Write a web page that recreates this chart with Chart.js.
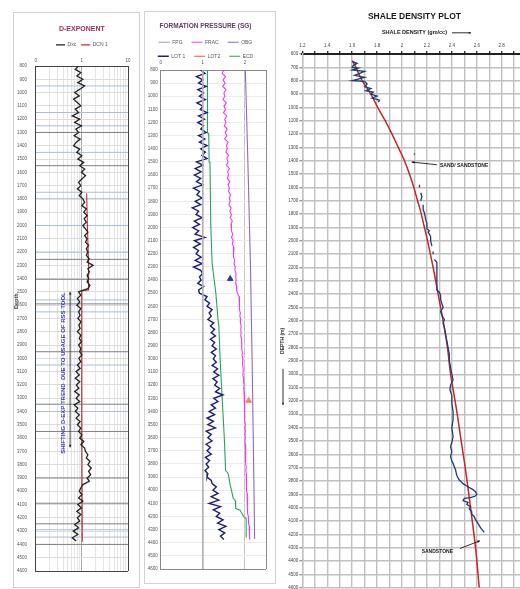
<!DOCTYPE html>
<html>
<head>
<meta charset="utf-8">
<title>D-exponent, formation pressure and shale density</title>
<script src="https://cdn.jsdelivr.net/npm/chart.js@4.4.1/dist/chart.umd.min.js"></script>
<style>
  html, body { margin: 0; padding: 0; background: #fff; }
  body { position: relative; width: 520px; height: 589px; overflow: hidden; }
  canvas, .frame { position: absolute; }
  .frame { border: 1px solid #d2d2d2; box-sizing: border-box; }
</style>
</head>
<body>
<div class="frame" style="left:13px; top:12px; width:127px; height:576px;"></div>
<canvas id="dexpChart" width="125" height="574" style="left:14px; top:13px;"></canvas>
<div class="frame" style="left:144px; top:11px; width:132px; height:573px;"></div>
<canvas id="pressChart" width="130" height="571" style="left:145px; top:12px;"></canvas>
<canvas id="densChart" width="260" height="600" style="left:280px; top:0px;"></canvas>
<script>
const FONT = "'Liberation Sans Narrow', 'Liberation Sans', Arial, sans-serif";

// depth of every reading of the noisy logs (m)
const logDepth = [
  800, 825, 850, 875, 900, 925, 950, 975,
  1000, 1025, 1050, 1075, 1100, 1125, 1150, 1175,
  1200, 1225, 1250, 1275, 1300, 1325, 1350, 1375,
  1400, 1425, 1450, 1475, 1500, 1525, 1550, 1575,
  1600, 1625, 1650, 1675, 1700, 1725, 1750, 1775,
  1800, 1825, 1850, 1875, 1900, 1925, 1950, 1975,
  2000, 2025, 2050, 2075, 2100, 2125, 2150, 2175,
  2200, 2225, 2250, 2275, 2300, 2325, 2350, 2375,
  2400, 2425, 2450, 2475, 2500, 2525, 2550, 2575,
  2600, 2625, 2650, 2675, 2700, 2725, 2750, 2775,
  2800, 2825, 2850, 2875, 2900, 2925, 2950, 2975,
  3000, 3025, 3050, 3075, 3100, 3125, 3150, 3175,
  3200, 3225, 3250, 3275, 3300, 3325, 3350, 3375,
  3400, 3425, 3450, 3475, 3500, 3525, 3550, 3575,
  3600, 3625, 3650, 3675, 3700, 3725, 3750, 3775,
  3800, 3825, 3850, 3875, 3900, 3925, 3950, 3975,
  4000, 4025, 4050, 4075, 4100, 4125, 4150, 4175,
  4200, 4225, 4250, 4275, 4300, 4325, 4350, 4375
];

// D-exponent panel
const dxcValue = [
  0.85, 0.72, 0.95, 0.78, 1.05, 0.82, 1.15, 0.9,
  0.7, 0.88, 0.66, 0.8, 0.95, 0.72, 0.85, 0.62,
  0.9, 0.7, 0.98, 0.74, 0.85, 0.68, 0.92, 0.75,
  0.66, 0.9, 0.78, 1.0, 0.82, 1.1, 0.9, 1.15,
  0.98, 1.2, 1.0, 0.85, 0.95, 0.8, 1.0, 0.88,
  1.05, 1.15, 1.0, 1.25, 1.1, 1.3, 1.12, 1.25,
  1.05, 1.2, 1.35, 1.15, 1.3, 1.2, 1.4, 1.25,
  1.35, 1.25, 1.45, 1.3, 1.75, 1.35, 1.45, 1.3,
  1.4, 1.3, 1.5, 1.35, 0.85, 0.95, 0.8, 0.9,
  0.78, 0.95, 0.85, 0.92, 0.82, 0.96, 0.86, 0.92,
  0.8, 0.95, 0.88, 0.98, 0.85, 0.95, 0.9, 1.0,
  0.86, 0.95, 0.8, 0.92, 0.75, 0.88, 0.72, 0.9,
  0.76, 0.86, 0.7, 0.88, 0.75, 0.9, 0.68, 0.82,
  0.72, 0.88, 0.75, 0.92, 0.8, 0.95, 0.85, 1.0,
  0.9, 1.1, 0.95, 1.15, 1.2, 1.35, 1.25, 1.5,
  1.35, 1.6, 1.4, 1.55, 1.3, 1.45, 1.05, 0.95,
  0.88, 1.0, 0.85, 1.05, 0.82, 0.98, 0.78, 0.95,
  0.8, 0.9, 0.7, 0.85, 0.65, 0.82, 0.62, 0.75
];
const dcnDepth = [1760, 2000, 2260, 2485, 2490, 3500, 4380];
const dcnValue = [1.27, 1.32, 1.39, 1.40, 1.0, 1.0, 1.02];
const blueTops = [950, 1150, 1250, 1450, 1750, 1800, 2000, 2200, 2560, 2650, 3050, 3400, 4290, 4345];
const darkTops = [1300, 1550, 2255, 2405, 2590, 2950, 3345, 3550, 3900, 4090, 4245, 4400];
const dexpGrid = [0.1, 0.2, 0.3, 0.4, 0.5, 0.6, 0.7, 0.8, 0.9, 1, 2, 3, 4, 5, 6, 7, 8, 9, 10];
const dexpLabelValues = [0.1, 1, 10];
const dexpLabelText = ['0', '1', '10'];

// formation pressure panel (SG)
const lot1Value = [
  0.95, 1.05, 0.85, 1.0, 0.9, 1.08, 0.88, 1.02,
  0.92, 1.06, 0.86, 1.0, 0.94, 1.1, 0.9, 1.04,
  0.88, 1.02, 0.95, 1.08, 0.9, 1.05, 0.92, 1.1,
  0.95, 1.06, 0.98, 1.1, 0.85, 1.0, 0.82, 0.96,
  0.8, 0.95, 0.85, 1.0, 0.78, 0.92, 0.86, 0.98,
  0.82, 0.95, 0.75, 0.9, 0.84, 0.98, 0.8, 0.92,
  0.76, 0.9, 0.82, 1.05, 0.8, 0.94, 0.78, 0.9,
  0.84, 0.96, 0.82, 0.98, 0.78, 0.95, 1.0, 0.92,
  0.96, 0.88, 1.02, 0.9, 0.92, 1.1, 1.05, 1.16,
  1.1, 1.22, 1.15, 1.2, 1.12, 1.26, 1.18, 1.28,
  1.2, 1.3, 1.18, 1.28, 1.22, 1.32, 1.2, 1.3,
  1.25, 1.32, 1.22, 1.35, 1.26, 1.38, 1.24, 1.34,
  1.28, 1.4, 1.3, 1.48, 1.26, 1.36, 1.2, 1.3,
  1.15, 1.28, 1.1, 1.25, 1.12, 1.3, 1.08, 1.2,
  1.12, 1.22, 1.08, 1.18, 1.1, 1.2, 1.06, 1.16,
  1.08, 1.14, 1.05, 1.12, 1.1, 1.2, 1.22, 1.32,
  1.24, 1.36, 1.2, 1.38, 1.15, 1.42, 1.25, 1.4,
  1.32, 1.48, 1.35, 1.55, 1.38, 1.52, 1.42, 1.5
];
const fracValue = [
  1.50, 1.46, 1.54, 1.48, 1.53, 1.47, 1.55, 1.50,
  1.52, 1.48, 1.56, 1.50, 1.54, 1.49, 1.57, 1.52,
  1.55, 1.51, 1.58, 1.53, 1.57, 1.52, 1.60, 1.56,
  1.58, 1.55, 1.61, 1.57, 1.60, 1.56, 1.63, 1.59,
  1.61, 1.58, 1.64, 1.60, 1.63, 1.61, 1.66, 1.63,
  1.65, 1.62, 1.67, 1.64, 1.68, 1.65, 1.70, 1.67,
  1.69, 1.67, 1.71, 1.68, 1.72, 1.70, 1.74, 1.72,
  1.74, 1.72, 1.76, 1.74, 1.77, 1.76, 1.79, 1.78,
  1.79, 1.78, 1.81, 1.80, 1.82, 1.86, 1.87, 1.86,
  1.88, 1.87, 1.89, 1.88, 1.90, 1.89, 1.91, 1.90,
  1.91, 1.90, 1.92, 1.92, 1.93, 1.92, 1.94, 1.93,
  1.95, 1.94, 1.95, 1.96, 1.96, 1.95, 1.97, 1.97,
  1.98, 1.97, 1.98, 1.99, 1.99, 1.98, 2.00, 1.99,
  2.00, 1.99, 2.00, 2.00, 2.01, 2.00, 2.01, 2.00,
  2.01, 2.00, 2.01, 2.01, 2.02, 2.01, 2.02, 2.02,
  2.02, 2.03, 2.02, 2.03, 2.03, 2.04, 2.03, 2.04,
  2.04, 2.05, 2.05, 2.06, 2.06, 2.06, 2.07, 2.07,
  2.08, 2.08, 2.09, 2.10, 2.10, 2.11, 2.11, 2.12
];
const ecdDepth = [800, 1280, 1285, 1500, 1510, 2000, 2270, 2500, 2700, 2750, 3000, 3300, 3600, 3850, 3870, 3960, 4000, 4060, 4080, 4140, 4150, 4200, 4215, 4360];
const ecdValue = [1.11, 1.11, 1.14, 1.15, 1.17, 1.19, 1.22, 1.31, 1.36, 1.38, 1.41, 1.46, 1.51, 1.54, 1.60, 1.65, 1.68, 1.72, 1.77, 1.78, 1.88, 1.97, 2.03, 2.03];
const obgDepth = [800, 1500, 2270, 3000, 3650, 4370];
const obgValue = [2.01, 2.07, 2.13, 2.17, 2.20, 2.23];
const fpgDepth = [800, 4600];
const fpgValue = [1.0, 1.0];
const lot1TestDepth = [2390];
const lot1TestValue = [1.65];
const lot2Depth = [3318];
const lot2Value = [2.09];
const presLabelValues = [0, 1, 2];

// shale density panel (gm/cc), null = gap in the log
const densDepth = [
  655, 670, 685, 700, 705, 720, 730, 745, 760, 775, 790, 800, 805, 825, 845, 860, 875, 885, 900, 915, 930, 945, 960, null,
  1345, 1355, null,
  1580, 1600, null,
  1640, 1670, 1700, null,
  1730, 1770, 1790, 1840, 1870, 1910, 1925, 1935, 1950, 1970, 2000, 2040, null,
  2080, 2100, null,
  2140, 2160, 2250, 2370, 2385, 2410, 2440, 2470, 2500, 2530,
  2560, 2590, 2620, 2650, 2700, 2750, 2800, 2850, 2900, 2950,
  3000, 3043, 3080, 3118, 3160, 3218, 3280, 3343, 3400, 3468,
  3510, 3543, 3580, 3618, 3650, 3668, 3718, 3760, 3793, 3820,
  3843, 3865, 3880, 3900, 3913, 3925, 3930, 3948, 3960, 3975,
  3993, 4010, 4031, 4050, 4068, 4090, 4118, 4150, 4186
];
const densValue = [
  1.60, 1.64, 1.61, 1.60, 1.65, 1.60, 1.70, 1.66, 1.62, 1.70, 1.64, 1.60, 1.70, 1.72, 1.70, 1.75, 1.71, 1.77, 1.75, 1.80, 1.76, 1.82, 1.81, null,
  2.10, 2.10, null,
  2.14, 2.14, null,
  2.15, 2.16, 2.15, null,
  2.17, 2.17, 2.18, 2.19, 2.20, 2.20, 2.22, 2.21, 2.22, 2.23, 2.23, 2.24, null,
  2.25, 2.25, null,
  2.26, 2.28, 2.28, 2.28, 2.30, 2.31, 2.31, 2.32, 2.33, 2.31,
  2.32, 2.34, 2.33, 2.34, 2.35, 2.36, 2.37, 2.38, 2.38, 2.39,
  2.40, 2.41, 2.39, 2.385, 2.40, 2.40, 2.41, 2.41, 2.40, 2.41,
  2.40, 2.39, 2.40, 2.39, 2.40, 2.41, 2.43, 2.44, 2.46, 2.49,
  2.53, 2.57, 2.59, 2.60, 2.59, 2.55, 2.50, 2.49, 2.53, 2.52,
  2.55, 2.54, 2.56, 2.56, 2.58, 2.59, 2.61, 2.63, 2.66
];
const nctDepth = [650, 700, 800, 900, 1000, 1100, 1200, 1300, 1400, 1500, 1600, 1700, 1800, 1900, 2000, 2200, 2400, 2600, 2800, 3000, 3250, 3500, 3750, 4000, 4300, 4600];
const nctValue = [1.60, 1.63, 1.68, 1.75, 1.805, 1.865, 1.92, 1.97, 2.02, 2.06, 2.095, 2.125, 2.155, 2.18, 2.205, 2.25, 2.29, 2.33, 2.365, 2.39, 2.435, 2.475, 2.515, 2.55, 2.59, 2.62];
const densGrid = [1.2, 1.3, 1.4, 1.5, 1.6, 1.7, 1.8, 1.9, 2.0, 2.1, 2.2, 2.3, 2.4, 2.5, 2.6, 2.7, 2.8, 2.9, 3.0];
const densTickValues = [1.2, 1.4, 1.6, 1.8, 2.0, 2.2, 2.4, 2.6, 2.8, 3.0];
const densTickText = ['1.2', '1.4', '1.6', '1.8', '2', '2.2', '2.4', '2.6', '2.8', '3'];

Chart.defaults.font.family = FONT;
Chart.defaults.color = '#555';
Chart.defaults.animation = false;
Chart.defaults.events = [];
Chart.defaults.plugins.tooltip.enabled = false;

function pairs(depths, values) {
  return depths.map((d, i) => ({ x: values[i], y: d }));
}

// one horizontal segment per depth, separated by gaps
function levelLines(depths, from, to) {
  return depths.flatMap(d => [{ x: from, y: d }, { x: to, y: d }, { x: null, y: null }]);
}

const depthLabel = v => String(v);

function drawArrow(ctx, x1, y1, x2, y2, head) {
  const a = Math.atan2(y2 - y1, x2 - x1);
  ctx.beginPath();
  ctx.moveTo(x1, y1);
  ctx.lineTo(x2, y2);
  ctx.stroke();
  ctx.beginPath();
  ctx.moveTo(x2, y2);
  ctx.lineTo(x2 - head * Math.cos(a - 0.45), y2 - head * Math.sin(a - 0.45));
  ctx.lineTo(x2 - head * Math.cos(a + 0.45), y2 - head * Math.sin(a + 0.45));
  ctx.closePath();
  ctx.fill();
}

function rotatedText(ctx, text, x, y, font, color) {
  ctx.save();
  ctx.translate(x, y);
  ctx.rotate(-Math.PI / 2);
  ctx.font = font;
  ctx.fillStyle = color;
  ctx.textAlign = 'center';
  ctx.textBaseline = 'middle';
  ctx.fillText(text, 0, 0);
  ctx.restore();
}

// axis title and the RSS note of the d-exponent track
const dexpNotes = {
  id: 'dexpNotes',
  afterDatasetsDraw(chart) {
    const { ctx } = chart;
    const x = chart.scales.x, y = chart.scales.y;
    rotatedText(ctx, 'Depth', 2.5, y.getPixelForValue(2570), `bold 5.5px ${FONT}`, '#3d3d3d');
    rotatedText(ctx, 'SHIFTING D-EXP TREND  DUE TO USAGE OF RSS TOOL',
      x.getPixelForValue(0.39), y.getPixelForValue(3110), "bold 6px 'Liberation Sans', Arial, sans-serif", '#3a3ad2');
    ctx.save();
    ctx.strokeStyle = '#222';
    ctx.fillStyle = '#222';
    ctx.lineWidth = 0.8;
    const ax = x.getPixelForValue(0.557);
    drawArrow(ctx, ax, y.getPixelForValue(3100), ax, y.getPixelForValue(2500), 3);
    drawArrow(ctx, ax, y.getPixelForValue(3100), ax, y.getPixelForValue(3670), 3);
    ctx.restore();
  }
};

// caption arrow, depth title and the sandstone notes of the density plot
const densNotes = {
  id: 'densNotes',
  afterDatasetsDraw(chart) {
    const { ctx } = chart;
    const x = chart.scales.x, y = chart.scales.y;
    ctx.save();
    ctx.strokeStyle = '#1a1a1a';
    ctx.fillStyle = '#1a1a1a';
    ctx.lineWidth = 0.9;

    const tb = chart.titleBlock;
    ctx.font = `bold 5.5px ${FONT}`;
    const half = ctx.measureText('SHALE DENSITY (gm/cc)').width / 2;
    const cx = (tb.left + tb.right) / 2;
    const cy = tb.bottom + 9.3;
    drawArrow(ctx, cx + half + 5, cy, cx + half + 24, cy, 2.5);

    rotatedText(ctx, 'DEPTH (m)', 3, y.getPixelForValue(2750), `bold 5px ${FONT}`, '#333');
    drawArrow(ctx, 3, y.getPixelForValue(2960), 3, y.getPixelForValue(3230), 2.5);

    ctx.font = `bold 5px ${FONT}`;
    ctx.textAlign = 'left';
    ctx.textBaseline = 'middle';
    ctx.fillText('SAND/ SANDSTONE', x.getPixelForValue(2.305), y.getPixelForValue(1437));
    drawArrow(ctx, x.getPixelForValue(2.28), y.getPixelForValue(1430), x.getPixelForValue(2.078), y.getPixelForValue(1410), 3);
    ctx.fillText('SANDSTONE', x.getPixelForValue(2.158), y.getPixelForValue(4331));
    drawArrow(ctx, x.getPixelForValue(2.466), y.getPixelForValue(4306), x.getPixelForValue(2.626), y.getPixelForValue(4248), 3);
    ctx.restore();
  }
};

// D-EXPONENT
new Chart(document.getElementById('dexpChart'), {
  type: 'line',
  data: {
    datasets: [
      { label: 'Dxc', data: pairs(logDepth, dxcValue), borderColor: '#222', borderWidth: 1.3 },
      { label: 'DCN 1', data: pairs(dcnDepth, dcnValue), borderColor: '#c8282e', borderWidth: 1.1 },
      { label: 'tops', data: levelLines(blueTops, 0.1, 10), borderColor: '#a8bde2', borderWidth: 1 },
      { label: 'tops dark', data: levelLines(darkTops, 0.1, 10), borderColor: '#7d808c', borderWidth: 1 }
    ]
  },
  options: {
    responsive: false,
    elements: { point: { radius: 0 }, line: { tension: 0 } },
    layout: { padding: { left: 0, right: 11, top: 0, bottom: 16 } },
    plugins: {
      title: { display: true, fullSize: false, text: 'D-EXPONENT', color: '#963563', font: { size: 7, weight: 'bold' }, padding: { top: 12, bottom: 4 } },
      legend: {
        fullSize: false,
        labels: { boxWidth: 9, boxHeight: 0, padding: 5, color: '#555', font: { size: 5 }, filter: item => item.datasetIndex < 2 }
      }
    },
    scales: {
      x: {
        type: 'logarithmic', position: 'top', min: 0.1, max: 10,
        afterBuildTicks: s => { s.ticks = dexpGrid.map(v => ({ value: v })); },
        afterFit: s => { s.height = 8.6; },
        ticks: {
          autoSkip: false, maxRotation: 0, padding: 3, color: '#555', font: { size: 4.5 },
          callback: v => { const i = dexpLabelValues.indexOf(v); return i < 0 ? '' : dexpLabelText[i]; }
        },
        grid: {
          drawTicks: false,
          color: c => (c.tick.value === 10 ? '#444' : c.tick.value === 1 ? '#a8a8a8' : '#e4e4e4')
        },
        border: { color: '#444' }
      },
      y: {
        type: 'linear', reverse: true, min: 800, max: 4600,
        afterFit: s => { s.width = 21.7; },
        ticks: { stepSize: 100, autoSkip: false, padding: 8.7, color: '#555', font: { size: 4.5 }, callback: depthLabel },
        grid: { drawTicks: false, color: c => (c.tick.value === 4600 ? '#444' : '#dcdcdc') },
        border: { color: '#444' }
      }
    }
  },
  plugins: [dexpNotes]
});

// FORMATION PRESSURE (SG)
new Chart(document.getElementById('pressChart'), {
  type: 'line',
  data: {
    datasets: [
      { label: 'FPG', data: pairs(fpgDepth, fpgValue), borderColor: '#b4b4b4', borderWidth: 1 },
      { label: 'FRAC', data: pairs(logDepth, fracValue), borderColor: '#ee3cee', borderWidth: 1.1 },
      { label: 'OBG', data: pairs(obgDepth, obgValue), borderColor: '#8c6cb4', borderWidth: 1.1 },
      { label: 'LOT 1', data: pairs(logDepth, lot1Value), borderColor: '#1c1f78', borderWidth: 1.4 },
      { label: 'LOT2', data: pairs(lot2Depth, lot2Value), borderColor: '#f0855a', backgroundColor: '#f0855a',
        showLine: false, pointStyle: 'triangle', pointRadius: 3.2, borderWidth: 1 },
      { label: 'ECD', data: pairs(ecdDepth, ecdValue), borderColor: '#27a35a', borderWidth: 1.1 },
      { label: 'LOT 1 test', data: pairs(lot1TestDepth, lot1TestValue), borderColor: '#2438b8', backgroundColor: '#2438b8',
        showLine: false, pointStyle: 'triangle', pointRadius: 3.2, borderWidth: 1 }
    ]
  },
  options: {
    responsive: false,
    elements: { point: { radius: 0 }, line: { tension: 0 } },
    layout: { padding: { left: 0, right: 9, top: 0, bottom: 14 } },
    plugins: {
      title: { display: true, text: 'FORMATION PRESSURE (SG)', color: '#5e3d64', font: { size: 6.5, weight: 'bold' }, padding: { top: 10, bottom: 1 } },
      legend: {
        maxHeight: 29.2,
        labels: { boxWidth: 11, boxHeight: 0, padding: 9, color: '#555', font: { size: 5 }, filter: item => item.datasetIndex < 6 }
      }
    },
    scales: {
      x: {
        type: 'linear', position: 'top', min: 0, max: 2.5,
        afterFit: s => { s.height = 10; },
        ticks: {
          stepSize: 1, padding: 4.3, color: '#555', font: { size: 4.5 },
          callback: v => (presLabelValues.includes(v) ? String(v) : '')
        },
        grid: { drawTicks: false, color: c => (c.tick.value === 2.5 ? '#8a8a8a' : '#c4c4c4') },
        border: { color: '#8a8a8a' }
      },
      y: {
        type: 'linear', reverse: true, min: 800, max: 4600,
        afterFit: s => { s.width = 15.7; },
        ticks: { stepSize: 100, autoSkip: false, padding: 3, color: '#555', font: { size: 4.5 }, callback: depthLabel },
        grid: { drawTicks: false, color: c => (c.tick.value === 4600 ? '#8a8a8a' : '#ececec') },
        border: { color: '#8a8a8a' }
      }
    }
  }
});

// SHALE DENSITY PLOT
new Chart(document.getElementById('densChart'), {
  type: 'line',
  data: {
    datasets: [
      { label: 'Shale density', data: pairs(densDepth, densValue), borderColor: '#1f3d6f', borderWidth: 1.3 },
      { label: 'NCT', data: pairs(nctDepth, nctValue), borderColor: '#c3262c', borderWidth: 1.5, tension: 0.4 }
    ]
  },
  options: {
    responsive: false,
    elements: { point: { radius: 0 }, line: { tension: 0 } },
    layout: { padding: { left: 0, right: 13.4, top: 0, bottom: 12.3 } },
    plugins: {
      legend: { display: false },
      title: { display: true, fullSize: false, text: 'SHALE DENSITY PLOT', color: '#1a1a1a', font: { size: 8.5, weight: 'bold' }, padding: { top: 11.3, bottom: 2 } },
      subtitle: { display: true, fullSize: false, text: 'SHALE DENSITY (gm/cc)', color: '#1a1a1a', font: { size: 5.5, weight: 'bold' }, padding: { top: 6, bottom: 4 } }
    },
    scales: {
      x: {
        type: 'linear', position: 'top', min: 1.2, max: 3.0,
        afterBuildTicks: s => { s.ticks = densGrid.map(v => ({ value: v })); },
        afterFit: s => { s.height = 13.9; },
        ticks: {
          autoSkip: false, maxRotation: 0, padding: 2.5, color: '#444', font: { size: 4.5 },
          callback: v => { const i = densTickValues.findIndex(t => Math.abs(t - v) < 1e-6); return i < 0 ? '' : densTickText[i]; }
        },
        grid: { color: '#c0c0c0', lineWidth: 1.4, tickLength: 3, tickColor: '#333' },
        border: { color: '#222', width: 2 }
      },
      y: {
        type: 'linear', reverse: true, min: 600, max: 4600,
        afterFit: s => { s.width = 22.3; },
        ticks: { stepSize: 100, autoSkip: false, padding: 1, color: '#444', font: { size: 4.5 }, callback: depthLabel },
        grid: { color: '#c0c0c0', lineWidth: 1.4, tickLength: 3, tickColor: '#999' },
        border: { color: '#c0c0c0', width: 1.4 }
      }
    }
  },
  plugins: [densNotes]
});
</script>
</body>
</html>
